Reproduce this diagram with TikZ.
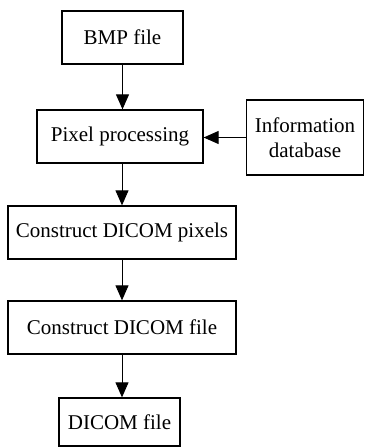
\documentclass[tikz,border=0pt]{standalone}
\usepackage{fontspec}
\setmainfont{Liberation Serif}
\usetikzlibrary{arrows.meta}
\begin{document}
\begin{tikzpicture}[x=1pt,y=-1pt,
  box/.style={draw, line width=1.3pt, inner sep=0pt, align=center,
    font=\fontsize{21}{25}\selectfont},
  arr/.style={line width=1pt, -{Triangle[length=15pt,width=13pt]}}]
\useasboundingbox (0,0) rectangle (365,448);
\node[box, minimum width=121, minimum height=53] (bmp) at (122.5,37.5) {BMP file};
\node[box, minimum width=166, minimum height=53] (pix) at (120,136.5) {Pixel processing};
\node[box, minimum width=117, minimum height=75] (info) at (305,137.5) {Information\\database};
\node[box, minimum width=228, minimum height=53] (cdp) at (122,232.5) {Construct DICOM pixels};
\node[box, minimum width=228, minimum height=53] (cdf) at (122,327.5) {Construct DICOM file};
\node[box, minimum width=121, minimum height=48] (dcm) at (119.5,422) {DICOM file};
\draw[arr] (bmp.south) -- (bmp.south |- pix.north);
\draw[arr] (cdp.north |- pix.south) -- (cdp.north);
\draw[arr] (cdf.north |- cdp.south) -- (cdf.north);
\draw[arr] (cdf.south) -- (cdf.south |- dcm.north);
\draw[arr] (info.west) -- (info.west -| pix.east);
\end{tikzpicture}
\end{document}
